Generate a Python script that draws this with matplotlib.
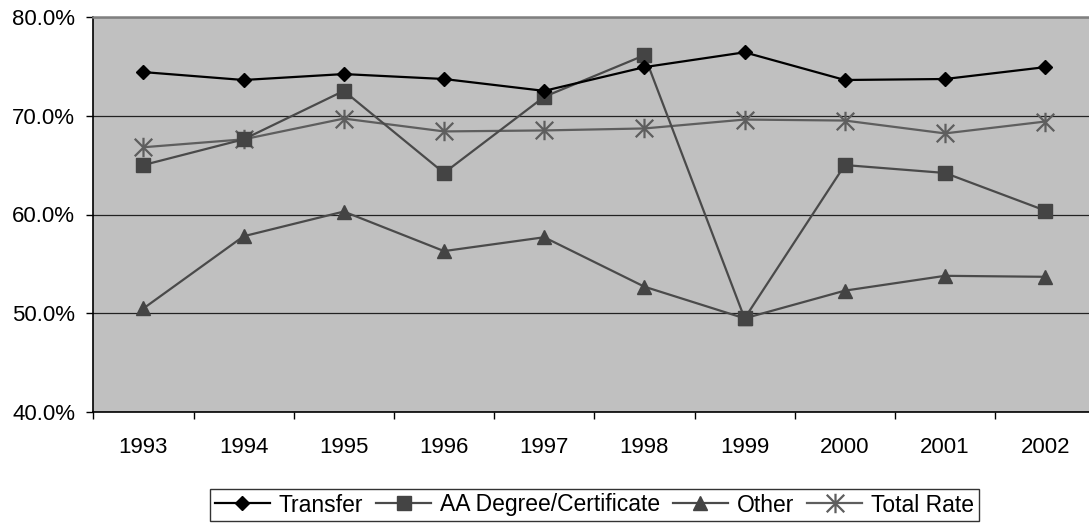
import matplotlib
matplotlib.use('Agg')
import matplotlib.pyplot as plt
from matplotlib.path import Path
import numpy as np

# values (percent)
years = ['1993', '1994', '1995', '1996', '1997', '1998', '1999', '2000', '2001', '2002']
transfer = [74.4, 73.6, 74.2, 73.7, 72.5, 74.9, 76.4, 73.6, 73.7, 74.9]
aa_degree = [65.0, 67.6, 72.5, 64.2, 71.9, 76.1, 49.5, 65.0, 64.2, 60.4]
other = [50.5, 57.8, 60.3, 56.3, 57.7, 52.7, 49.5, 52.3, 53.8, 53.7]
total_rate = [66.8, 67.6, 69.7, 68.4, 68.5, 68.7, 69.6, 69.5, 68.2, 69.4]

plt.rcParams['font.family'] = ['Liberation Sans', 'DejaVu Sans']

# excel style asterisk: vertical bar plus an X
star = Path([(0, -1), (0, 1), (-0.9, -0.9), (0.9, 0.9), (-0.9, 0.9), (0.9, -0.9)],
            [Path.MOVETO, Path.LINETO, Path.MOVETO, Path.LINETO, Path.MOVETO, Path.LINETO])

fig = plt.figure(figsize=(10.89, 5.24), dpi=100)
ax = fig.add_axes([93.3 / 1089, 1 - 412.3 / 524, 1002 / 1089, 395.6 / 524])
ax.set_facecolor('#c0c0c0')

x = np.arange(len(years))
ax.plot(x, transfer, color='black', lw=1.6, marker='D', ms=7, label='Transfer', zorder=5)
ax.plot(x, aa_degree, color='#4a4a4a', lw=1.6, marker='s', ms=10, mfc='#444444', mec='#444444',
        label='AA Degree/Certificate', zorder=4)
ax.plot(x, other, color='#4a4a4a', lw=1.6, marker='^', ms=10, mfc='#444444', mec='#444444',
        label='Other', zorder=3)
ax.plot(x, total_rate, color='#5e5e5e', lw=1.6, marker=star, ms=14, mew=1.6,
        label='Total Rate', zorder=3)

ax.set_xlim(-0.5, len(years) - 0.5)
ax.set_ylim(40, 80)
ax.set_yticks([40, 50, 60, 70, 80])
ax.set_yticklabels(['{:.1f}%'.format(v) for v in [40, 50, 60, 70, 80]])
ax.yaxis.grid(True, color='#222222', lw=0.9)
ax.set_axisbelow(True)

ax.set_xticks(x)
ax.set_xticklabels(years)
ax.set_xticks(np.arange(-0.5, len(years)), minor=True)
ax.tick_params(axis='x', which='major', length=0, pad=18, labelsize=16)
ax.tick_params(axis='x', which='minor', length=5, width=1, color='black', direction='out')
ax.tick_params(axis='y', length=5, width=1, pad=8, labelsize=16)

ax.spines['top'].set_color('#808080')
ax.spines['top'].set_linewidth(1.8)
ax.spines['right'].set_visible(False)
ax.spines['left'].set_linewidth(1.2)
ax.spines['bottom'].set_linewidth(1.2)

leg = fig.legend(loc='center', bbox_to_anchor=(594.5 / 1089, 1 - 505 / 524), ncol=4,
                 prop={'size': 16.5}, handlelength=2.4, handletextpad=0.4,
                 columnspacing=0.55, borderpad=0.2,
                 frameon=True, fancybox=False, edgecolor='black', markerscale=1.0)
leg.get_frame().set_linewidth(1.0)

fig.savefig('out.png', dpi=100, facecolor='white')
